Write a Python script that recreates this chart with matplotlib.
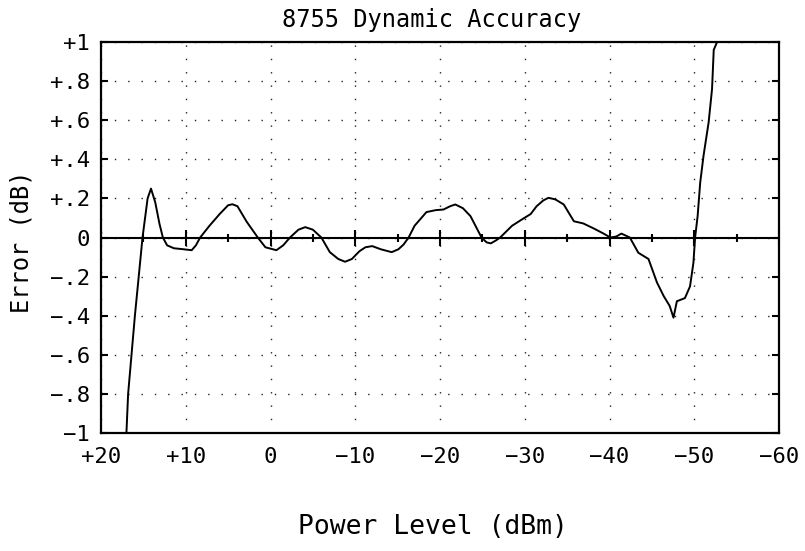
import matplotlib
matplotlib.use("Agg")
import matplotlib.pyplot as plt
import numpy as np

# Data (x: power level dBm, y: error dB)
power_dbm = [20, 17.0, 16.8, 16.0, 15.1, 14.5, 14.1, 13.6, 13.1, 12.7, 12.2, 11.4, 10.3,
             9.3, 8.8, 8.3, 7.2, 6.0, 5.0, 4.5, 3.9, 2.8, 1.5, 0.6, -0.7, -1.5, -2.3,
             -3.3, -4.1, -5.0, -6.0, -7.0, -8.0, -8.8, -9.6, -10.5, -11.2, -12.0, -13.0,
             -14.3, -15.1, -15.7, -16.3, -17.0, -18.4, -19.5, -20.4, -21.2, -21.8, -22.7,
             -23.6, -24.9, -25.5, -26.0, -26.6, -27.1, -28.5, -29.8, -30.7, -31.4, -32.2,
             -32.8, -33.6, -34.6, -35.8, -36.9, -38.2, -39.3, -40.1, -40.8, -41.4, -41.9,
             -42.4, -43.4, -44.6, -45.6, -46.4, -47.1, -47.55, -47.95, -48.9, -49.5,
             -49.9, -50.1, -50.4, -50.7, -51.1, -51.7, -52.1, -52.3, -52.7, -54.6]
error_db = [-1.0, -1.0, -0.8, -0.4, 0.0, 0.2, 0.25, 0.18, 0.07, 0.0, -0.04, -0.055, -0.06,
            -0.065, -0.04, 0.0, 0.06, 0.12, 0.165, 0.17, 0.16, 0.08, 0.0, -0.05, -0.065,
            -0.04, 0.0, 0.04, 0.053, 0.04, 0.0, -0.075, -0.11, -0.124, -0.11, -0.07,
            -0.05, -0.044, -0.06, -0.075, -0.06, -0.036, 0.0, 0.06, 0.13, 0.14, 0.143,
            0.16, 0.169, 0.15, 0.109, 0.0, -0.025, -0.03, -0.015, 0.0, 0.06, 0.096, 0.12,
            0.16, 0.19, 0.203, 0.195, 0.169, 0.083, 0.072, 0.045, 0.02, 0.0, 0.005, 0.02,
            0.01, 0.0, -0.078, -0.11, -0.23, -0.30, -0.35, -0.41, -0.326, -0.31, -0.25,
            -0.13, 0.0, 0.11, 0.28, 0.42, 0.59, 0.76, 0.96, 1.0, 1.0]

x_ticks = [20, 10, 0, -10, -20, -30, -40, -50, -60]
x_tick_labels = ["+20", "+10", "0", "\u221210", "\u221220", "\u221230", "\u221240", "\u221250", "\u221260"]
y_ticks = [1, 0.8, 0.6, 0.4, 0.2, 0, -0.2, -0.4, -0.6, -0.8, -1]
y_tick_labels = ["+1", "+.8", "+.6", "+.4", "+.2", "0", "\u2212.2", "\u2212.4", "\u2212.6", "\u2212.8", "\u22121"]
zero_marks = list(range(-60, 21, 5))

title = "8755 Dynamic Accuracy"
xlabel = "Power Level (dBm)"
ylabel = "Error (dB)"

plt.rcParams['font.family'] = ['DejaVu Sans Mono']

fig = plt.figure(figsize=(8.05, 5.51), dpi=100)
ax = fig.add_axes([101/805, 1-433/551, (779-101)/805, (433-42)/551])

ax.set_xlim(20, -60)
ax.set_ylim(-1, 1)

ax.set_xticks(x_ticks)
ax.set_xticklabels(x_tick_labels, fontsize=16)
ax.set_yticks(y_ticks)
ax.set_yticklabels(y_tick_labels, fontsize=16)
ax.tick_params(axis='x', length=0, pad=10)
ax.tick_params(axis='y', direction='in', length=5, width=1.5, pad=8, right=True)

ax.grid(True, color='#222222', linestyle=(0, (1, 8.6)), linewidth=1.0)

# zero line with tick marks
ax.axhline(0, color='black', linewidth=1.5, zorder=2)
for xm in zero_marks:
    size = 12 if xm % 10 == 0 else 6
    ax.plot([xm], [0], marker='|', markersize=size, markeredgewidth=1.5, color='black', zorder=2)

ax.plot(power_dbm, error_db, color='black', linewidth=1.4, zorder=3, clip_on=False)

for s in ax.spines.values():
    s.set_linewidth(1.6)

fig.text(432/805, 1-20/551, title, ha='center', va='center', fontsize=17)
fig.text(433/805, 1-527/551, xlabel, ha='center', va='center', fontsize=19)
fig.text(22/805, 1-242/551, ylabel, ha='center', va='center', rotation=90, fontsize=17)

fig.savefig("out.png", dpi=100, facecolor='white')
